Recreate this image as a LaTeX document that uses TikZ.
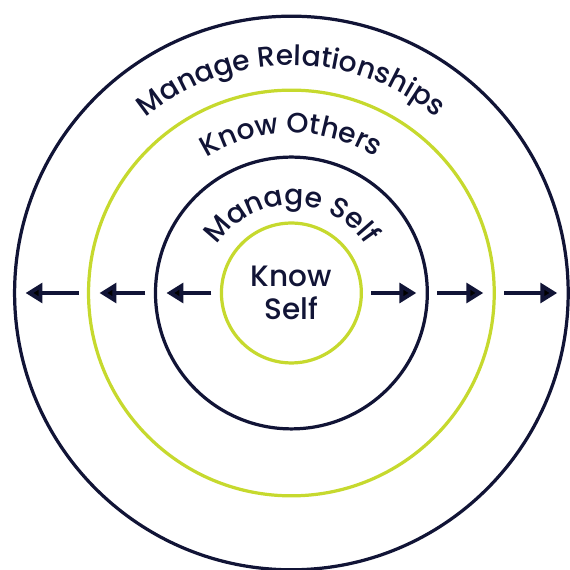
\documentclass[tikz,border=0pt]{standalone}
\usepackage{fontspec}
\setmainfont{Poppins}[UprightFont=* Medium]
\usetikzlibrary{arrows.meta,decorations.text}

\definecolor{navy}{HTML}{111436}
\definecolor{lime}{HTML}{C6D92E}

\tikzset{
	ring/.style={circle, draw, line width=2.3pt, inner sep=0pt, outer sep=0pt},
	spread/.style={-{Triangle[length=12pt,width=14pt]}, draw=navy, line width=2.8pt, shorten <=2.5mm, shorten >=2.75mm},
	arclabel/.style={decorate, decoration={text along path, text align=center, text color=navy, text={|\fontsize{20}{20}\selectfont|#1}}}
}

\begin{document}
\begin{tikzpicture}
	\useasboundingbox (-7.29,-6.93) rectangle (6.96,7.33);

	\node (mr) at (0,0) [ring, draw=navy, minimum size=13.85cm] {};
	\node (ko) at (0,0) [ring, draw=lime, minimum size=10.15cm] {};
	\node (ms) at (0,0) [ring, draw=navy, minimum size=6.8cm] {};
	\node (ks) at (0,0) [ring, draw=lime, minimum size=3.5cm, align=center, text=navy, font=\fontsize{21}{23.5}\selectfont] {Know\\Self};

	\path[arclabel=Manage Relationships] (170:5.7) arc[start angle=170, end angle=10, radius=5.7];
	\path[arclabel=Know Others] (170:4.0) arc[start angle=170, end angle=10, radius=4.0];
	\path[arclabel=Manage Self] (170:2.2) arc[start angle=170, end angle=10, radius=2.2];

	\draw[spread] (ks.east) -- (ms.east);
	\draw[spread] (ms.east) -- (ko.east);
	\draw[spread] (ko.east) -- (mr.east);
	\draw[spread] (ks.west) -- (ms.west);
	\draw[spread] (ms.west) -- (ko.west);
	\draw[spread] (ko.west) -- (mr.west);
\end{tikzpicture}
\end{document}
